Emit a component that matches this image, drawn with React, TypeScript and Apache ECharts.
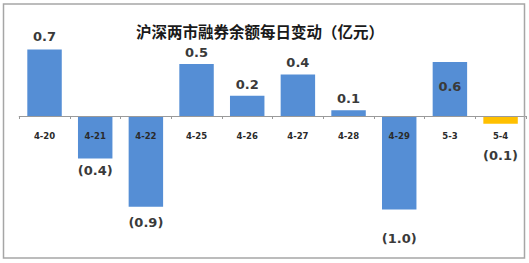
import React, { useEffect, useRef } from "react";
import * as echarts from "echarts";

const titleText = "沪深两市融券余额每日变动（亿元）";
const categories = ["4-20", "4-21", "4-22", "4-25", "4-26", "4-27", "4-28", "4-29", "5-3", "5-4"];
const values = [0.69, -0.44, -0.94, 0.54, 0.21, 0.43, 0.06, -0.97, 0.56, -0.08];
const highlightIndex = 9;
const labelDistances = [6, 6, 9, 5, 5, 6, 5, 22, 0, 25];

const BLUE = "#558ED5";
const YELLOW = "#FFC000";

export default function App() {
  const ref = useRef<HTMLDivElement>(null);
  useEffect(() => {
    document.body.style.margin = "0";
    if (!ref.current) return;
    const chart = echarts.init(ref.current, undefined, { renderer: "svg" });
    const fmt = (v: number) => (v < 0 ? `(${Math.abs(v).toFixed(1)})` : v.toFixed(1));
    const data = values.map((v, i) => {
      const isInside = i === 8;
      return {
        value: v,
        itemStyle: { color: i === highlightIndex ? YELLOW : BLUE },
        label: isInside
          ? { position: "inside", offset: [0, -2] }
          : { position: v >= 0 ? "top" : "bottom", distance: labelDistances[i] },
      };
    });
    const left = 19.2;
    const right = 529 - 525.9;
    chart.setOption({
      animation: false,
      backgroundColor: "#ffffff",
      title: {
        text: titleText,
        left: 255,
        textAlign: "center",
        top: 18,
        textStyle: {
          fontFamily: "Noto Sans CJK SC",
          fontSize: 15.5,
          fontWeight: "bold",
          color: "#1a1a1a",
        },
      },
      graphic: [
        {
          type: "rect",
          shape: { x: 3.5, y: 4, width: 521, height: 254 },
          style: { fill: "none", stroke: "#a6a6a6", lineWidth: 1.5 },
          silent: true,
          z: 100,
        },
      ],
      grid: [
        { left, right, top: 19.5, height: 193 },
        { left, right, top: 19.5, height: 96.5 },
      ],
      xAxis: [
        {
          type: "category",
          gridIndex: 0,
          data: categories,
          show: false,
        },
        {
          type: "category",
          gridIndex: 1,
          data: categories,
          z: 5,
          position: "bottom",
          axisLine: { show: true, onZero: false, lineStyle: { color: "#9a9a9a", width: 1 } },
          axisTick: { show: true, length: 3, lineStyle: { color: "#9a9a9a" } },
          axisLabel: {
            margin: 15,
            fontFamily: "DejaVu Sans",
            fontSize: 8.5,
            fontWeight: "bold",
            color: "#2a2a2a",
            interval: 0,
          },
        },
      ],
      yAxis: [
        { type: "value", gridIndex: 0, min: -1, max: 1, show: false },
        { type: "value", gridIndex: 1, min: 0, max: 1, show: false },
      ],
      series: [
        {
          type: "bar",
          xAxisIndex: 0,
          yAxisIndex: 0,
          data,
          barCategoryGap: "32%",
          label: {
            show: true,
            formatter: (p: any) => fmt(p.value),
            fontFamily: "DejaVu Sans",
            fontSize: 13,
            fontWeight: "bold",
            color: "#3a3a3a",
          },
        },
      ],
    });
    return () => chart.dispose();
  }, []);
  return <div ref={ref} style={{ width: 529, height: 263 }} />;
}
